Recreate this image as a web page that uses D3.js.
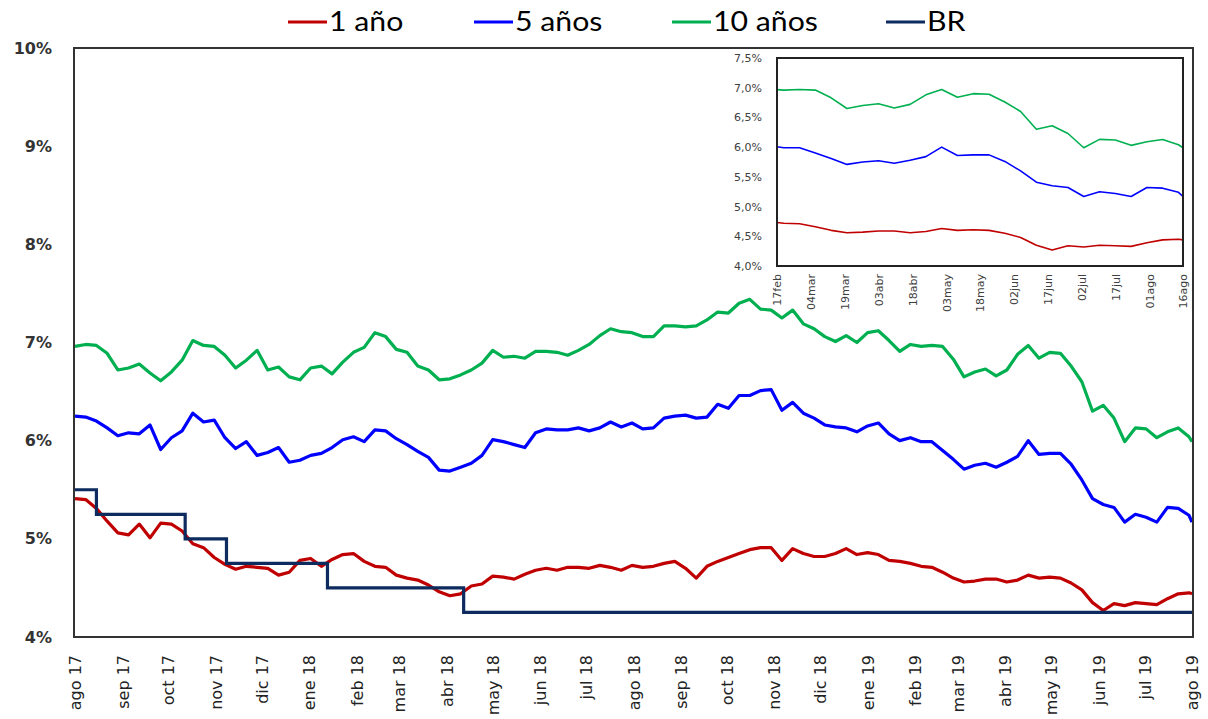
<!DOCTYPE html>
<html>
<head>
<meta charset="utf-8">
<script src="https://cdn.jsdelivr.net/npm/d3@7"></script>
<style>
body { margin: 0; background: #fff; }
svg { display: block; }
</style>
</head>
<body>
<svg id="svg1" width="1208" height="719"></svg>
<script>
// weekly readings from 16 ago 2017, last value is 16 ago 2019
var startDate = new Date(2017, 7, 16);
var endDate = new Date(2019, 7, 16);

var seriesNames = ["1 año", "5 años", "10 años", "BR"];
var seriesColors = ["#c00000", "#0000ff", "#00b050", "#0d2b5e"];

var tasa1 = [5.41,5.40,5.31,5.18,5.06,5.04,5.15,5.01,5.16,5.15,
  5.08,4.95,4.91,4.81,4.74,4.69,4.72,4.71,4.70,4.63,
  4.66,4.78,4.80,4.72,4.79,4.84,4.85,4.77,4.72,4.71,
  4.63,4.60,4.58,4.53,4.46,4.42,4.44,4.52,4.54,4.62,
  4.61,4.59,4.64,4.68,4.70,4.68,4.71,4.71,4.70,4.73,
  4.71,4.68,4.73,4.71,4.72,4.75,4.77,4.70,4.60,4.72,
  4.77,4.81,4.85,4.89,4.91,4.91,4.78,4.90,4.85,4.82,
  4.82,4.85,4.90,4.84,4.86,4.84,4.78,4.77,4.75,4.72,
  4.71,4.66,4.60,4.56,4.57,4.59,4.59,4.56,4.58,4.63,
  4.60,4.61,4.60,4.55,4.48,4.35,4.27,4.34,4.32,4.35,
  4.34,4.33,4.39,4.44,4.45,4.44];

var tasa5 = [6.25,6.24,6.20,6.13,6.05,6.08,6.07,6.16,5.91,6.03,
  6.10,6.28,6.19,6.21,6.03,5.92,5.99,5.85,5.88,5.93,
  5.78,5.80,5.85,5.87,5.93,6.01,6.04,5.99,6.11,6.10,
  6.02,5.96,5.89,5.83,5.70,5.69,5.73,5.77,5.85,6.01,
  5.99,5.96,5.93,6.08,6.12,6.11,6.11,6.13,6.10,6.13,
  6.19,6.14,6.18,6.12,6.13,6.23,6.25,6.26,6.23,6.24,
  6.37,6.33,6.46,6.46,6.51,6.52,6.31,6.39,6.28,6.23,
  6.16,6.14,6.13,6.09,6.15,6.18,6.07,6.00,6.03,5.99,
  5.99,5.90,5.81,5.71,5.75,5.77,5.73,5.78,5.84,6.00,
  5.86,5.87,5.87,5.76,5.60,5.41,5.35,5.32,5.17,5.25,
  5.22,5.17,5.32,5.31,5.24,5.17];

var tasa10 = [6.96,6.98,6.97,6.89,6.72,6.74,6.78,6.69,6.61,6.70,
  6.82,7.02,6.97,6.96,6.87,6.74,6.82,6.92,6.72,6.75,
  6.65,6.62,6.74,6.76,6.68,6.80,6.90,6.95,7.10,7.06,
  6.93,6.90,6.76,6.72,6.62,6.63,6.67,6.72,6.79,6.92,
  6.85,6.86,6.84,6.91,6.91,6.90,6.87,6.92,6.98,7.07,
  7.14,7.11,7.10,7.06,7.06,7.17,7.17,7.16,7.17,7.23,
  7.31,7.30,7.40,7.44,7.34,7.33,7.25,7.33,7.19,7.14,
  7.06,7.01,7.07,7.00,7.10,7.12,7.02,6.91,6.98,6.96,
  6.97,6.96,6.83,6.65,6.70,6.73,6.66,6.72,6.88,6.97,
  6.84,6.90,6.89,6.76,6.60,6.30,6.36,6.23,5.99,6.13,
  6.12,6.03,6.09,6.13,6.04,5.99];

var brDates = ["2017-08-16", "2017-08-30", "2017-10-27", "2017-11-23", "2018-01-28", "2018-04-27", "2019-08-16"];
var brValues = [5.50, 5.25, 5.00, 4.75, 4.50, 4.25, 4.25];

var monthNames = ["ene","feb","mar","abr","may","jun","jul","ago","sep","oct","nov","dic"];
var yTicks = [4, 5, 6, 7, 8, 9, 10];
var insetYTicks = [4, 4.5, 5, 5.5, 6, 6.5, 7, 7.5];
var insetStart = new Date(2019, 1, 17);

var svg = d3.select('#svg1');

// dates of the weekly readings
var dates = tasa1.map(function(d, i) {
  return i < tasa1.length - 1 ? d3.timeDay.offset(startDate, 7 * i) : endDate;
});
var parseDate = d3.timeParse("%Y-%m-%d");

var series = [tasa1, tasa5, tasa10].map(function(vals, k) {
  return { name: seriesNames[k], color: seriesColors[k],
    values: vals.map(function(v, i) { return { date: dates[i], v: v }; }) };
});
var brData = brDates.map(function(d, i) { return { date: parseDate(d), v: brValues[i] }; });

// main chart
var x = d3.scaleTime().domain([startDate, endDate]).range([75, 1192]);
var y = d3.scaleLinear().domain([4, 10]).range([637, 48]);

var line = d3.line()
  .x(function(d) { return x(d.date); })
  .y(function(d) { return y(d.v); });
var stepLine = d3.line()
  .curve(d3.curveStepAfter)
  .x(function(d) { return x(d.date); })
  .y(function(d) { return y(d.v); });

var monthTicks = d3.range(25).map(function(i) { return new Date(2017, 7 + i, 16); });

var xAxis = svg.append('g')
  .attr('transform', 'translate(0,637)')
  .call(d3.axisBottom(x).tickValues(monthTicks).tickSize(0)
    .tickFormat(function(d) { return monthNames[d.getMonth()] + " " + String(d.getFullYear()).slice(2); }));
xAxis.select('.domain').remove();
xAxis.selectAll('text')
  .attr('transform', 'rotate(-90)')
  .attr('x', -18).attr('y', 0).attr('dy', '0.35em')
  .style('text-anchor', 'end')
  .style('font-family', 'DejaVu Sans')
  .style('font-size', '16px')
  .style('fill', '#222');

var yAxis = svg.append('g')
  .attr('transform', 'translate(74,0)')
  .call(d3.axisLeft(y).tickValues(yTicks).tickSize(0).tickPadding(22)
    .tickFormat(function(d) { return d + "%"; }));
yAxis.select('.domain').remove();
yAxis.selectAll('text')
  .style('font-family', 'DejaVu Sans')
  .style('font-weight', 'bold')
  .style('font-size', '16px')
  .style('fill', '#333');

svg.selectAll('path.serie')
  .data(series.slice().reverse())
  .enter()
  .append('path')
  .attr('class', 'serie')
  .attr('d', function(d) { return line(d.values); })
  .attr('fill', 'none')
  .attr('stroke', function(d) { return d.color; })
  .attr('stroke-width', 3.2)
  .attr('stroke-linejoin', 'round');

svg.append('path')
  .attr('d', stepLine(brData))
  .attr('fill', 'none')
  .attr('stroke', seriesColors[3])
  .attr('stroke-width', 3.2);

svg.append('rect')
  .attr('x', 74).attr('y', 48)
  .attr('width', 1119).attr('height', 589)
  .attr('fill', 'none')
  .attr('stroke', '#333')
  .attr('stroke-width', 2);

// legend
var legendX = [288, 474, 672, 886];
var legend = svg.selectAll('g.leg')
  .data(seriesNames)
  .enter()
  .append('g')
  .attr('class', 'leg')
  .attr('transform', function(d, i) { return 'translate(' + legendX[i] + ',0)'; });
legend.append('line')
  .attr('x1', 0).attr('x2', 39).attr('y1', 22).attr('y2', 22)
  .attr('stroke', function(d, i) { return seriesColors[i]; })
  .attr('stroke-width', 3);
legend.append('text')
  .attr('transform', 'translate(41,31) scale(1.12,1)')
  .style('font-family', 'Lato')
  .style('font-size', '27px')
  .style('fill', '#000')
  .text(function(d) { return d; });

// inset: last six months
var xi = d3.scaleTime().domain([insetStart, endDate]).range([777, 1183]);
var yi = d3.scaleLinear().domain([4, 7.5]).range([266, 58]);
var insetLine = d3.line()
  .x(function(d) { return xi(d.date); })
  .y(function(d) { return yi(d.v); });

svg.append('clipPath').attr('id', 'clipInset')
  .append('rect').attr('x', 777).attr('y', 58).attr('width', 406).attr('height', 208);

var insetTicks = d3.range(13).map(function(i) { return d3.timeDay.offset(insetStart, 15 * i); });
var fmtDay = d3.timeFormat("%d");

var xiAxis = svg.append('g')
  .attr('transform', 'translate(0,266)')
  .call(d3.axisBottom(xi).tickValues(insetTicks).tickSize(0)
    .tickFormat(function(d) { return fmtDay(d) + monthNames[d.getMonth()]; }));
xiAxis.select('.domain').remove();
xiAxis.selectAll('text')
  .attr('transform', 'rotate(-90)')
  .attr('x', -8).attr('y', 0).attr('dy', '0.35em')
  .style('text-anchor', 'end')
  .style('font-family', 'DejaVu Sans')
  .style('font-size', '11px')
  .style('fill', '#404040');

var yiAxis = svg.append('g')
  .attr('transform', 'translate(777,0)')
  .call(d3.axisLeft(yi).tickValues(insetYTicks).tickSize(0).tickPadding(15)
    .tickFormat(function(d) { return d3.format(".1f")(d).replace(".", ",") + "%"; }));
yiAxis.select('.domain').remove();
yiAxis.selectAll('text')
  .style('font-family', 'DejaVu Sans')
  .style('font-size', '11px')
  .style('fill', '#404040');

svg.append('g')
  .attr('clip-path', 'url(#clipInset)')
  .selectAll('path')
  .data(series.slice().reverse())
  .enter()
  .append('path')
  .attr('d', function(d) { return insetLine(d.values); })
  .attr('fill', 'none')
  .attr('stroke', function(d) { return d.color; })
  .attr('stroke-width', 1.6)
  .attr('stroke-linejoin', 'round');

svg.append('rect')
  .attr('x', 777).attr('y', 58)
  .attr('width', 406).attr('height', 208)
  .attr('fill', 'none')
  .attr('stroke', '#222')
  .attr('stroke-width', 2);
</script>
</body>
</html>
